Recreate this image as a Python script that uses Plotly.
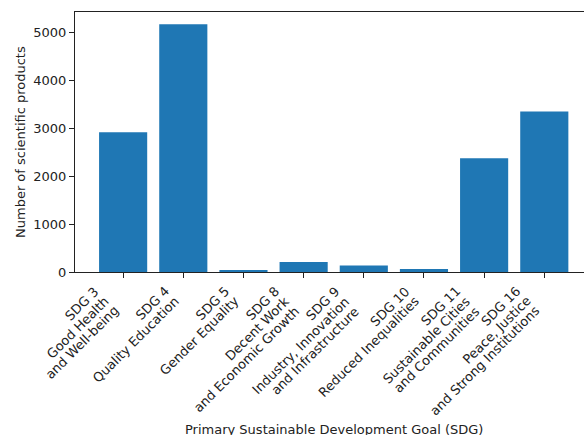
import math
import plotly.graph_objects as go

categories = [
    "SDG 3<br>Good Health<br>and Well-being",
    "SDG 4<br>Quality Education",
    "SDG 5<br>Gender Equality",
    "SDG 8<br>Decent Work<br>and Economic Growth",
    "SDG 9<br>Industry, Innovation<br>and Infrastructure",
    "SDG 10<br>Reduced Inequalities",
    "SDG 11<br>Sustainable Cities<br>and Communities",
    "SDG 16<br>Peace, Justice<br>and Strong Institutions",
]
values = [2920, 5170, 30, 210, 135, 65, 2375, 3350]
y_ticks = [0, 1000, 2000, 3000, 4000, 5000]

positions = list(range(len(categories)))
font = "DejaVu Sans, Arial, sans-serif"
txt = "#222"
fs = 13
line_step = 14.1 / math.sqrt(2)   # per-line offset along the rotated stacking direction
label_gap = 10                    # tick length + pad below the axis

fig = go.Figure(
    go.Bar(
        x=positions,
        y=values,
        width=0.8,
        marker=dict(color="#1f77b4", line=dict(width=0)),
    )
)

# rotated, right-aligned multi-line tick labels (matplotlib rotation=45, ha='right')
tick_annots = []
for pos, lab in zip(positions, categories):
    lines = lab.split("<br>")
    n = len(lines)
    for k, line in enumerate(lines):
        tick_annots.append(
            dict(
                text=line,
                xref="x", yref="paper",
                x=pos, y=0,
                xanchor="right", yanchor="top",
                xshift=-(n - 1 - k) * line_step,
                yshift=-label_gap - k * line_step,
                textangle=-45,
                showarrow=False,
                borderpad=0,
                font=dict(family=font, size=fs, color=txt),
            )
        )

fig.update_layout(
    width=584,
    height=435,
    margin=dict(l=75, r=0, t=12, b=163),
    paper_bgcolor="white",
    plot_bgcolor="white",
    font=dict(family=font, size=fs, color=txt),
    showlegend=False,
    xaxis=dict(
        range=[-0.8, 7.66],
        tickmode="array",
        tickvals=positions,
        showticklabels=False,
        ticks="outside",
        ticklen=5,
        tickwidth=1,
        tickcolor=txt,
        showline=True,
        linecolor=txt,
        linewidth=1,
        mirror=True,
        showgrid=False,
        zeroline=False,
        automargin=False,
    ),
    yaxis=dict(
        range=[0, 5428],
        tickmode="array",
        tickvals=y_ticks,
        ticks="outside",
        ticklen=5,
        tickwidth=1,
        tickcolor=txt,
        showline=True,
        linecolor=txt,
        linewidth=1,
        mirror=False,
        showgrid=False,
        zeroline=False,
        automargin=False,
        tickfont=dict(family=font, size=fs, color=txt),
    ),
    annotations=tick_annots + [
        dict(
            text="Primary Sustainable Development Goal (SDG)",
            xref="paper", yref="paper",
            x=(333.5 - 75) / 509, y=-(429 - 272) / 260,
            xanchor="center", yanchor="middle",
            showarrow=False,
            font=dict(family=font, size=fs, color=txt),
        ),
        dict(
            text="Number of scientific products",
            xref="paper", yref="paper",
            x=-(75 - 20) / 509, y=0.5,
            xanchor="center", yanchor="middle",
            textangle=-90,
            showarrow=False,
            font=dict(family=font, size=fs, color=txt),
        ),
    ],
)

fig.write_html("out.html")
